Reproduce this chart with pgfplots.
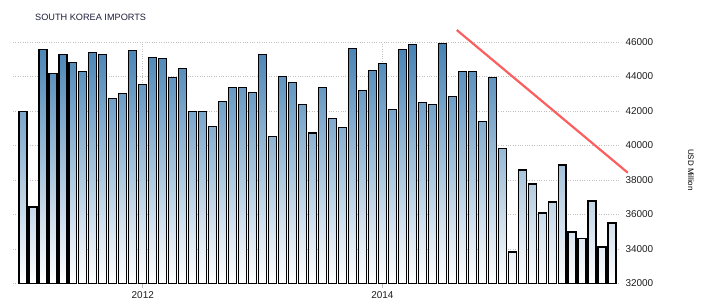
\documentclass[border=0pt]{standalone}
\usepackage{pgfplots}
\pgfplotsset{compat=1.18}
\usepackage{fontspec}
\setmainfont{Liberation Sans}
\definecolor{barblue}{RGB}{70,130,180}
\definecolor{gridgray}{RGB}{192,192,192}
\definecolor{trendred}{RGB}{250,95,95}
\definecolor{titlecol}{RGB}{30,30,60}
\definecolor{tickcol}{RGB}{30,30,30}
\pgfplotstableread{
idx val
0 41970
1 36440
2 45580
3 44190
4 45290
5 44820
6 44300
7 45400
8 45290
9 42740
10 43030
11 45520
12 43550
13 45110
14 45060
15 43960
16 44480
17 41970
18 41970
19 41120
20 42570
21 43380
22 43380
23 43090
24 45290
25 40500
26 44010
27 43670
28 42390
29 40720
30 43380
31 41580
32 41060
33 45630
34 43170
35 44360
36 44770
37 42110
38 45580
39 45870
40 42510
41 42390
42 45920
43 42860
44 44300
45 44300
46 41410
47 43960
48 39830
49 33830
50 38580
51 37770
52 36090
53 36730
54 38870
55 34990
56 34590
57 36780
58 34120
59 35510
}\imports
\begin{document}
\begin{tikzpicture}
\useasboundingbox (0,0) rectangle (707bp,308bp);
\begin{axis}[
  at={(13bp,24.5bp)}, anchor=south west,
  scale only axis, width=605bp, height=241.5bp,
  xmin=-1, xmax=59.6, ymin=0, ymax=14000,
  y filter/.expression={y-32000},
  scaled y ticks=false, scaled x ticks=false,
  clip=false,
  axis line style={draw=none},
  xtick={12,36}, xticklabels={2012,2014},
  ytick={0,2000,...,14000},
  yticklabels={32000,34000,36000,38000,40000,42000,44000,46000},
  yticklabel pos=right,
  ymajorgrids, xmajorgrids,
  grid style={gridgray, dotted, line width=0.8bp},
  xtick style={draw=gridgray, line width=0.8bp},
  ytick style={draw=none},
  tick align=outside, major tick length=4bp,
  xtick pos=bottom,
  tick label style={font=\fontsize{10}{12}\selectfont, text=tickcol},
  yticklabel style={anchor=west, xshift=0bp},
  xticklabel style={yshift=-1bp},
]
\addplot[ybar, bar width=0.8, draw=black, line width=1.2bp,
  top color=barblue, bottom color=white] table[x=idx, y=val] {\imports};
\addplot[trendred, line width=2.2bp, no marks] coordinates {(43.45,46694) (60.58,38422)};
\end{axis}
\node[anchor=west, inner sep=0pt, text=titlecol, font=\fontsize{9.2}{11}\selectfont] at (35bp,291bp) {SOUTH KOREA IMPORTS};
\node[rotate=-90, text=black, font=\fontsize{8}{10}\selectfont] at (691bp,138bp) {USD Million};
\end{tikzpicture}
\end{document}
